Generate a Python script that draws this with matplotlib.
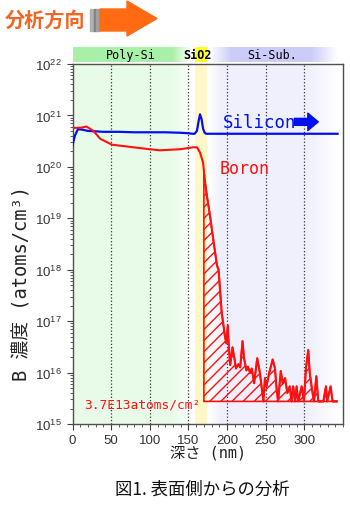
import numpy as np
import matplotlib
matplotlib.use('Agg')
import matplotlib.pyplot as plt
from matplotlib.patches import Polygon, Rectangle

plt.rcParams['font.family'] = ['Liberation Sans', 'Noto Sans CJK JP']
MONO = ['DejaVu Sans Mono', 'Noto Sans CJK JP']
CJK = ['Noto Sans CJK JP', 'DejaVu Sans']

W, H = 350, 510  # figure size in pixels (dpi 100)

# ---- data ----
si_depth = [0, 3, 7, 12, 20, 40, 60, 80, 100, 120, 140, 150, 155, 158, 161,
            163, 165, 167, 169, 171, 173, 176, 180, 200, 250, 300, 343]
si_conc = [2.6e20, 4.0e20, 5.4e20, 5.3e20, 5.0e20, 4.8e20, 4.8e20, 4.7e20,
           4.7e20, 4.7e20, 4.6e20, 4.5e20, 4.4e20, 4.4e20, 5.0e20,
           7.5e20, 1.05e21, 8.5e20, 5.5e20, 4.6e20, 4.4e20, 4.4e20, 4.4e20,
           4.4e20, 4.4e20, 4.4e20, 4.4e20]

b_depth = [0, 12, 18, 27, 36, 51, 79, 100, 113, 139, 156, 161, 165, 169, 170,
           171, 174, 178, 182, 187, 189, 193, 197, 199, 201, 202, 204, 207,
           210, 211.5, 214.5, 217, 220, 222, 225, 227, 230, 232, 235, 239,
           242.5, 247, 249, 251, 254.5, 259, 262, 264, 266, 269.5, 272, 275,
           278, 281, 283.5, 285.5, 288, 290, 292, 296.5, 299.5, 302, 305, 307,
           310, 312.5, 315.5, 318, 324.5, 328, 329.5, 334, 336.5, 342]
b_conc = [5.7e20, 5.8e20, 6.1e20, 5.0e20, 3.5e20, 2.7e20, 2.4e20, 2.2e20,
          2.1e20, 2.2e20, 2.4e20, 2.4e20, 1.9e20, 1.2e20, 8.5e19,
          5.7e19, 2.7e19, 1.1e19, 4.0e18, 1.2e18, 1.0e18, 1.5e17, 5.4e16,
          3.7e16, 8.3e16, 3.7e16, 1.4e16, 3.1e16,
          1.7e16, 1.2e16, 1.45e16, 1.26e16, 4.1e16, 1.9e16, 1.1e16, 1.3e16,
          9.8e15, 1.2e16, 6.2e15, 1.9e16,
          9.8e15, 2.75e15, 7.8e15, 5.4e15, 9.8e15, 1.8e16, 1.2e16, 5.0e15,
          2.75e15, 1.07e16, 6.2e15, 7.8e15,
          4.0e15, 5.4e15, 2.75e15, 5.4e15, 2.75e15, 5.4e15, 2.75e15, 5.4e15,
          2.75e15, 1.2e16, 2.75e16, 9.8e15,
          4.6e15, 2.75e15, 8.5e15, 2.75e15, 2.75e15, 5.4e15, 2.75e15, 5.4e15,
          2.75e15, 2.75e15]

dose_start = 170        # nm, left edge of integrated region
dose_floor = 2.75e15    # background level
dose_label = '3.7E13atoms/cm²'

layer_names = ['Poly-Si', 'SiO2', 'Si-Sub.']
layer_pos = [76, 162, 259]
oxide_range = (158, 174)

xticks = [0, 50, 100, 150, 200, 250, 300]
xmax = 350


def px(x, y):
    return x / W, 1 - y / H


def gradient(stops, n=701):
    xs = np.linspace(0, xmax, n)
    pos = [s[0] for s in stops]
    img = np.zeros((1, n, 3))
    for c in range(3):
        img[0, :, c] = np.interp(xs, pos, [s[1][c] for s in stops])
    return img


fig = plt.figure(figsize=(W / 100, H / 100), dpi=100)
rect = [72.5 / W, 1 - 425 / H, 270.5 / W, 360 / H]

# background shading of the layers
white = (1, 1, 1)
green = (0.91, 0.985, 0.91)
lav = (0.945, 0.945, 0.99)
bg = fig.add_axes(rect, zorder=0)
bg.imshow(gradient([(0, green), (128, green), (156, white), (176, white),
                    (190, lav), (305, lav), (345, white), (350, white)]),
          extent=[0, xmax, 0, 1], aspect='auto')
bg.axvspan(*oxide_range, color=(1.0, 0.97, 0.78), lw=0)
bg.set_xlim(0, xmax)
bg.set_ylim(0, 1)
bg.axis('off')

# layer band above the plot
band = fig.add_axes([72.5 / W, 1 - 63 / H, 270.5 / W, 15 / H])
band.imshow(gradient([(0, (0.66, 0.94, 0.66)), (128, (0.66, 0.94, 0.66)),
                      (152, white), (176, white), (205, (0.80, 0.80, 0.98)),
                      (308, (0.80, 0.80, 0.98)), (342, white), (350, white)]),
            extent=[0, xmax, 0, 1], aspect='auto')
band.axvspan(*oxide_range, color=(1.0, 1.0, 0.15), lw=0)
for name, x in zip(layer_names, layer_pos):
    band.text(x, 0.5, name, ha='center', va='center', fontsize=8.5,
              family=MONO, fontweight='bold' if name == 'SiO2' else 'normal')
band.set_xlim(0, xmax)
band.set_ylim(0, 1)
band.axis('off')

# main plot
ax = fig.add_axes(rect, zorder=1)
ax.patch.set_alpha(0)
ax.set_yscale('log')

for x in xticks[1:]:
    ax.axvline(x, color='#333333', ls=':', lw=0.9, zorder=1)

d = np.array(b_depth)
c = np.array(b_conc)
m = d >= dose_start
ax.fill_between(d[m], c[m], dose_floor, facecolor='none', edgecolor='#FF1010',
                hatch='///', lw=1.2, zorder=2)
ax.plot(si_depth, si_conc, color='#0010F0', lw=1.6, zorder=3)
ax.plot(b_depth, b_conc, color='#FF1010', lw=1.5, zorder=3)

ax.text(195, 7.5e20, 'Silicon', color='#0010F0', fontsize=12.5, family=MONO,
        va='center', ha='left')
ax.annotate('', xy=(318, 7.5e20), xytext=(287, 7.5e20),
            arrowprops=dict(arrowstyle='simple,head_length=0.75,head_width=1.25,tail_width=0.5',
                            color='#0010F0', mutation_scale=10, shrinkA=0, shrinkB=0))
ax.text(191, 9.5e19, 'Boron', color='#FF1010', fontsize=12, family=MONO,
        va='center', ha='left')
ax.text(15, 2.4e15, dose_label, color='#FF1010', fontsize=9.3, family=MONO,
        va='center', ha='left')

ax.set_xlim(0, xmax)
ax.set_ylim(1e15, 1e22)
ax.set_xticks(xticks)
ax.set_xticks(np.arange(0, xmax + 1, 10), minor=True)
ax.tick_params(which='both', direction='out', color='#404040', labelsize=9.5,
               labelcolor='#333333')
ax.tick_params(which='major', length=4)
ax.tick_params(which='minor', length=2)
for s in ax.spines.values():
    s.set_color('#505050')
    s.set_linewidth(1)

ax.set_xlabel('深さ (nm)', family=MONO, fontsize=11, color='#222222')
ax.xaxis.set_label_coords(0.5, -0.06)
ax.set_ylabel('B 濃度 (atoms/cm³)', family=MONO, fontsize=13.5, color='#222222')
ax.yaxis.set_label_coords(-0.15, 0.392)

# title with arrow
fig.text(*px(5, 20), '分析方向', color='#F26522', fontsize=14.5, fontweight='bold',
         family=CJK, va='center', ha='left')
for x0, w, col in [(90, 3, '#B0B0B0'), (93.5, 2.5, '#808080'), (96.5, 3, '#A0A0A0')]:
    fig.patches.append(Rectangle(px(x0, 32), w / W, 22 / H, color=col,
                                 transform=fig.transFigure))
arrow = [(100, 10), (127, 10), (127, 2), (157, 19.5), (127, 37), (127, 32), (100, 32)]
fig.patches.append(Polygon([px(*p) for p in arrow], closed=True, color='#FF6A13',
                           transform=fig.transFigure))

fig.text(*px(202, 490), '図1. 表面側からの分析', fontsize=12.5, family=CJK,
         ha='center', va='center', color='#111111')

fig.savefig('out.png', dpi=100, facecolor='white')
